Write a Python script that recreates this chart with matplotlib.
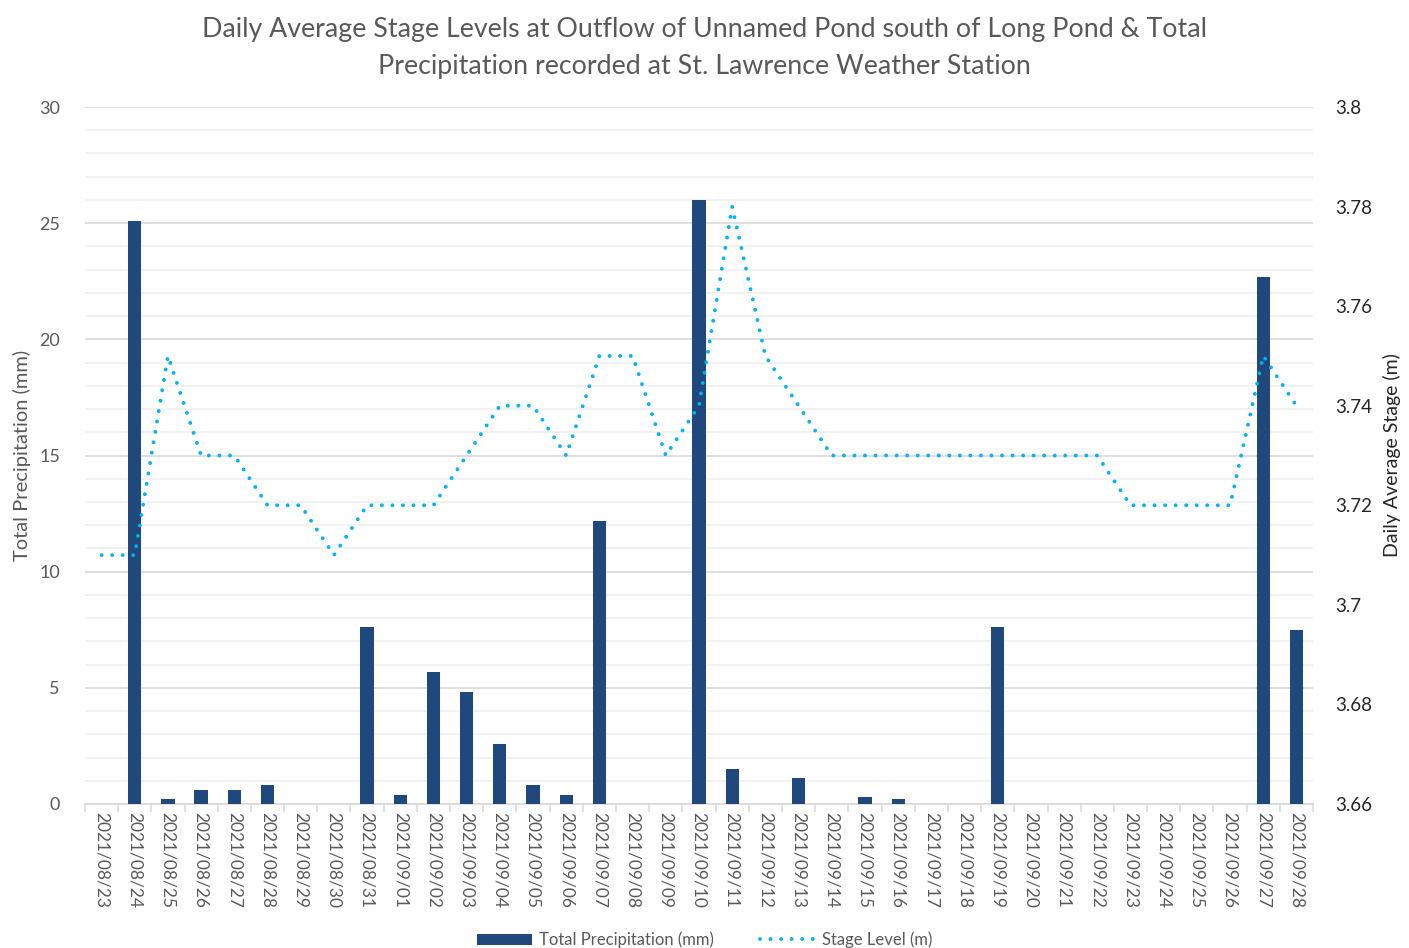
import matplotlib.pyplot as plt
from matplotlib.ticker import MultipleLocator, FuncFormatter
from matplotlib.lines import Line2D
from matplotlib.patches import Patch

plt.rcParams["font.family"] = ["Lato", "DejaVu Sans"]

# daily dates, 2021/08/23 to 2021/09/28
dates = [f"2021/08/{d:02d}" for d in range(23, 32)] + [f"2021/09/{d:02d}" for d in range(1, 29)]

# total precipitation (mm)
precip = [0, 25.1, 0.2, 0.6, 0.6, 0.8, 0, 0, 7.6, 0.4,
          5.7, 4.8, 2.6, 0.8, 0.4, 12.2, 0, 0, 26.0, 1.5,
          0, 1.1, 0, 0.3, 0.2, 0, 0, 7.6, 0, 0,
          0, 0, 0, 0, 0, 22.7, 7.5]

# daily average stage (m)
stage = [3.71, 3.71, 3.75, 3.73, 3.73, 3.72, 3.72, 3.71, 3.72, 3.72,
         3.72, 3.73, 3.74, 3.74, 3.73, 3.75, 3.75, 3.73, 3.74, 3.78,
         3.75, 3.74, 3.73, 3.73, 3.73, 3.73, 3.73, 3.73, 3.73, 3.73,
         3.73, 3.72, 3.72, 3.72, 3.72, 3.75, 3.74]

bar_color = "#1F497D"
line_color = "#00B0F0"
text_color = "#595959"
dotted = (0, (0.01, 2.7))

fig = plt.figure(figsize=(14.09, 9.48), dpi=100)
ax = fig.add_axes([0.0603, 0.1519, 0.8716, 0.7352])
ax2 = ax.twinx()

x = list(range(len(dates)))
ax.bar(x, precip, width=0.4, color=bar_color, zorder=3)

ax2.plot(x, stage, color=line_color, linewidth=2.8,
         linestyle=dotted, dash_capstyle="round", zorder=4)

# left axis
ax.set_ylim(0, 30)
ax.set_xlim(-0.5, len(dates) - 0.5)
ax.yaxis.set_major_locator(MultipleLocator(5))
ax.yaxis.set_minor_locator(MultipleLocator(1))
ax.grid(axis="y", which="major", color="#D9D9D9", linewidth=1.2, zorder=0)
ax.grid(axis="y", which="minor", color="#F0F0F0", linewidth=1.2, zorder=0)
ax.set_axisbelow(True)
ax.tick_params(axis="y", which="both", length=0, labelsize=13, labelcolor=text_color, pad=18)
ax.set_ylabel("Total Precipitation (mm)", fontsize=14.5, color=text_color, labelpad=6)

ax.set_xticks(x)
ax.set_xticklabels(dates, rotation=-90, fontsize=12.5, color=text_color)
ax.set_xticks([i - 0.5 for i in range(len(dates) + 1)], minor=True)
ax.tick_params(axis="x", which="major", length=0, pad=6)
ax.tick_params(axis="x", which="minor", length=6, color="#D9D9D9", width=1.2)

for side in ["top", "right", "left"]:
    ax.spines[side].set_visible(False)
    ax2.spines[side].set_visible(False)
ax.spines["bottom"].set_color("#D9D9D9")
ax.spines["bottom"].set_linewidth(1.2)
ax2.spines["bottom"].set_visible(False)

# right axis
ax2.set_ylim(3.66, 3.80)
ax2.yaxis.set_major_locator(MultipleLocator(0.02))
ax2.yaxis.set_major_formatter(FuncFormatter(lambda v, p: f"{round(v, 2):g}"))
ax2.tick_params(axis="y", length=0, labelsize=13.5, labelcolor="#262626", pad=16)
ax2.set_ylabel("Daily Average Stage (m)", fontsize=14, color="#262626", labelpad=8)

fig.suptitle("Daily Average Stage Levels at Outflow of Unnamed Pond south of Long Pond & Total\n"
             "Precipitation recorded at St. Lawrence Weather Station",
             fontsize=19.3, color=text_color, y=0.982, linespacing=1.6)

handles = [
    Patch(facecolor=bar_color, label="Total Precipitation (mm)"),
    Line2D([0], [0], color=line_color, linewidth=2.8, linestyle=dotted,
           dash_capstyle="round", label="Stage Level (m)"),
]
fig.legend(handles=handles, loc="lower center", ncol=2, frameon=False,
           fontsize=12, labelcolor=text_color, bbox_to_anchor=(0.5, -0.016),
           handlelength=3.3, handleheight=0.7, handletextpad=0.4, columnspacing=2.8)

fig.savefig("out.png", dpi=100)
